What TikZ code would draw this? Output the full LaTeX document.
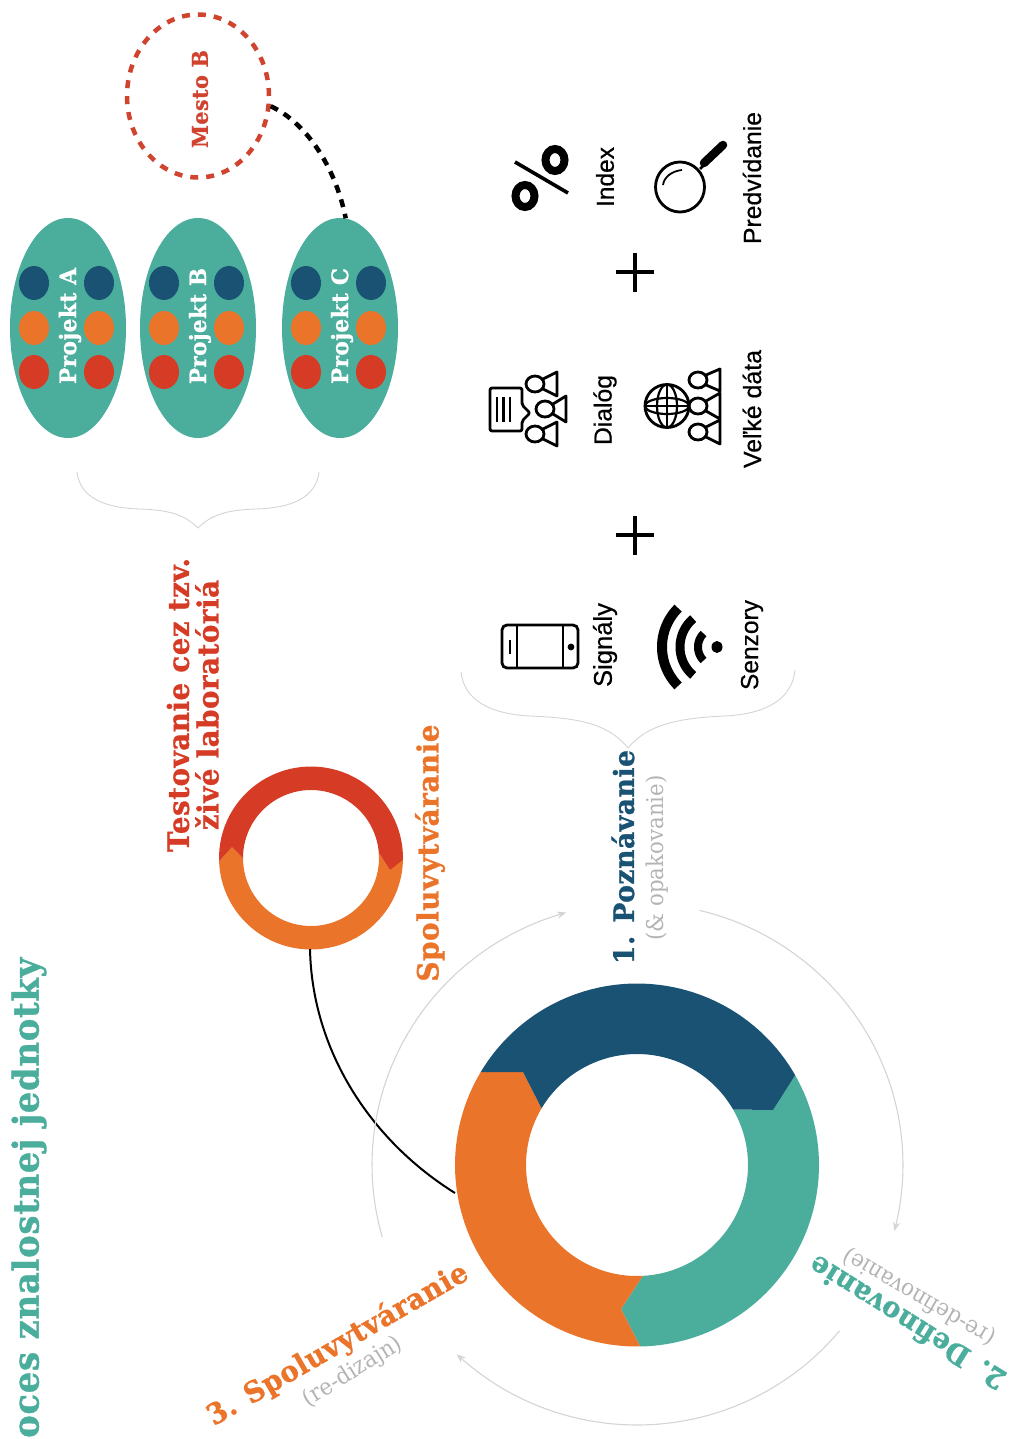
\documentclass[tikz,border=0pt]{standalone}
\usepackage{fontspec}
\usepackage{graphicx}
\usetikzlibrary{shapes.geometric,arrows.meta}
\setmainfont[FakeBold=.5]{Liberation Sans}
\newfontfamily\slab[FakeStretch=.92]{DejaVu Serif}
\newfontfamily\slabb[FakeStretch=.95,FakeBold=1,LetterSpace=2]{DejaVu Serif Bold}
\definecolor{cteal}{HTML}{4BAE9D}
\definecolor{cblue}{HTML}{1A5274}
\definecolor{corange}{HTML}{EB742B}
\definecolor{cred}{HTML}{D63C25}
\definecolor{cdash}{HTML}{D0432F}
\definecolor{cgray}{HTML}{D4D4D4}
\definecolor{clabel}{HTML}{B4B4B4}
\newcommand{\fitb}[2]{\resizebox{#1pt}{!}{\slabb #2}}
\newcommand{\fitl}[2]{\resizebox{#1pt}{!}{\slab #2}}
\newcommand{\fits}[2]{\resizebox{#1pt}{!}{#2}}
\def\cx{637}\def\cy{1165}\def\sx{311}\def\sy{858}
\newcommand{\person}[4]{%
  \draw[icon] (#1,#2) ellipse [x radius=9,y radius=8];
  \draw[icon,line join=round] (#1+8,#2-5) -- (#3,#2-#4) -- (#3,#2+#4) -- (#1+8,#2+5);}
\tikzset{
  icon/.style={line width=2.8pt,black},
  lbl/.style={rotate=90,inner sep=0pt,font=\fontsize{24}{24}\selectfont},
  proj/.style={ellipse,fill=cteal,minimum width=116pt,minimum height=220pt,inner sep=0pt},
  dotb/.style={ellipse,fill=cblue,minimum width=30pt,minimum height=34pt,inner sep=0pt},
  doto/.style={ellipse,fill=corange,minimum width=30pt,minimum height=34pt,inner sep=0pt},
  dotr/.style={ellipse,fill=cred,minimum width=30pt,minimum height=34pt,inner sep=0pt},
  brace/.style={cgray,line width=.9pt},
  cyc/.style={cgray,line width=1.1pt,-{Stealth[length=9pt,width=7pt]}},
  plusbar/.style={line width=4pt,black}
}
\begin{document}
\begin{tikzpicture}[x=1pt,y=-1pt]
\useasboundingbox (0,0) rectangle (1016,1439);
% title
\node[rotate=90,anchor=west,inner sep=0pt,text=cteal] (title) at (29,1438) {\fitb{480}{oces znalostnej jednotky}};
% projects
\node[proj] (pa) at (68,328) {};
\node[proj] (pb) at (198,328) {};
\node[proj] (pc) at (340,328) {};
\node[dotb] (a1) at (34,283) {}; \node[dotb] (a2) at (99,283) {};
\node[doto] (a3) at (34,328) {}; \node[doto] (a4) at (99,328) {};
\node[dotr] (a5) at (34,372) {}; \node[dotr] (a6) at (99,372) {};
\node[dotb] (b1) at (164,283) {}; \node[dotb] (b2) at (229,283) {};
\node[doto] (b3) at (164,328) {}; \node[doto] (b4) at (229,328) {};
\node[dotr] (b5) at (164,372) {}; \node[dotr] (b6) at (229,372) {};
\node[dotb] (c1) at (306,283) {}; \node[dotb] (c2) at (371,283) {};
\node[doto] (c3) at (306,328) {}; \node[doto] (c4) at (371,328) {};
\node[dotr] (c5) at (306,372) {}; \node[dotr] (c6) at (371,372) {};
\node[rotate=90,inner sep=0pt,text=white] (ta) at (70,326) {\fitb{116}{Projekt A}};
\node[rotate=90,inner sep=0pt,text=white] (tb) at (200,326) {\fitb{116}{Projekt B}};
\node[rotate=90,inner sep=0pt,text=white] (tc) at (342,326) {\fitb{116}{Projekt C}};
% Mesto B
\node[ellipse,draw=cdash,line width=4.5pt,dash pattern=on 8pt off 8pt,minimum width=142pt,minimum height=163pt,inner sep=0pt] (mesto) at (198,96) {};
\node[rotate=90,inner sep=0pt,text=cdash] (mt) at (200,99) {\fitb{98}{Mesto B}};
\draw[black,line width=4.5pt,dash pattern=on 8pt off 7pt] (mesto.-8) .. controls (305,122) and (335,165) .. (pc.87);
% upper brace
\coordinate (bt) at (198,528);
\draw[brace] (77,472) .. controls (80,498) and (105,508) .. (140,509) .. controls (170,510) and (185,515) .. (bt) .. controls (211,515) and (226,510) .. (256,509) .. controls (291,508) and (316,498) .. (319,472);
% lower brace
\coordinate (bb) at (628,748);
\draw[brace] (461,672) .. controls (464,700) and (490,714) .. (530,716) .. controls (585,718) and (610,726) .. (bb) .. controls (646,726) and (675,718) .. (725,716) .. controls (765,714) and (792,700) .. (795,670);
% icon texts
\node[lbl] (t1) at (605,645) {\fits{84}{Signály}};
\node[lbl] (t2) at (752,645) {\fits{90}{Senzory}};
\node[lbl] (t3) at (605,410) {\fits{70}{Dialóg}};
\node[lbl] (t4) at (752,409) {\fits{118}{Veľké dáta}};
\node[lbl] (t5) at (605,177) {\fits{60}{Index}};
\node[lbl] (t6) at (752,178) {\fits{132}{Predvídanie}};
% plus signs
\coordinate (p1a) at (616,272); \coordinate (p1b) at (654,272);
\coordinate (p1c) at (635,253); \coordinate (p1d) at (635,292);
\draw[plusbar] (p1a) -- (p1b); \draw[plusbar] (p1c) -- (p1d);
\coordinate (p2a) at (616,535); \coordinate (p2b) at (654,535);
\coordinate (p2c) at (635,516); \coordinate (p2d) at (635,555);
\draw[plusbar] (p2a) -- (p2b); \draw[plusbar] (p2c) -- (p2d);
% phone
\draw[icon,rounded corners=5pt] (502,625) rectangle (578,668);
\draw[icon] (517,625) -- (517,668) (563,625) -- (563,668);
\draw[icon] (510,640) -- (510,654);
\fill (571,647) circle [radius=3.4];
% wifi
\fill (717,647) ellipse [x radius=5.5,y radius=6];
\draw[line width=8pt] plot[domain=135:225,samples=30] ({717+19*cos(\x)},{647+19*sin(\x)});
\draw[line width=9pt] plot[domain=130:230,samples=30] ({717+37*cos(\x)},{647+37*sin(\x)});
\draw[line width=10pt] plot[domain=135:225,samples=30] ({717+55*cos(\x)},{647+55*sin(\x)});
% dialog
\draw[icon,rounded corners=2pt,line join=round] (490,388) -- (522,388) -- (522,405) -- (530,413) -- (522,421) -- (522,431) -- (490,431) -- cycle;
\draw[line width=2.4pt] (497,397) -- (497,422) (503.5,397) -- (503.5,422) (510,397) -- (510,422);
\person{535}{384}{557}{12}
\person{545}{409}{566}{13}
\person{535}{434}{557}{12}
% big data
\draw[icon] (667,406) ellipse [x radius=22,y radius=21.5];
\draw[line width=2.2pt] (667,406) ellipse [x radius=22,y radius=8];
\draw[line width=2.2pt] (667,406) ellipse [x radius=10,y radius=21.5];
\draw[line width=2.2pt] (645,406) -- (689,406) (667,385) -- (667,428);
\person{698}{380}{720}{11}
\person{698}{406}{720}{13}
\person{698}{432}{720}{12}
% percent
\draw[line width=8pt] (525,196) ellipse [x radius=9.5,y radius=11];
\draw[line width=8pt] (555,160) ellipse [x radius=9.5,y radius=11];
\draw[line width=3.6pt] (515,162) -- (568,193);
% magnifier
\draw[line width=2.8pt] (680,187) ellipse [x radius=24.5,y radius=25];
\draw[line width=1.8pt] (663,185) .. controls (664,177) and (672,171) .. (682,170);
\draw[line width=2.8pt] (700,169) -- (706,163);
\draw[line width=8.5pt,line cap=round] (704,163) -- (723,145);
% small ring
\fill[corange] plot[domain=178:-1,samples=50] ({\sx+92*cos(\x)},{\sy+91.5*sin(\x)}) -- (390,870) -- (379,853) -- plot[domain=-3:180,samples=50] ({\sx+68*cos(\x)},{\sy+68*sin(\x)}) -- (232,847) -- cycle;
\fill[cred] plot[domain=178:361,samples=50] ({\sx+92*cos(\x)},{\sy+91.5*sin(\x)}) -- (390,870) -- (379,853) -- plot[domain=357:180,samples=50] ({\sx+68*cos(\x)},{\sy+68*sin(\x)}) -- (232,847) -- cycle;
% big ring
\fill[cteal] plot[domain=-30:89,samples=60] ({\cx+182*cos(\x)},{\cy+181.5*sin(\x)}) -- (621,1309) -- plot[domain=87:-30,samples=60] ({\cx+111*cos(\x)},{\cy+111*sin(\x)}) -- (773,1110) -- cycle;
\fill[corange] plot[domain=89:210.8,samples=60] ({\cx+182*cos(\x)},{\cy+181.5*sin(\x)}) -- (523,1072) -- plot[domain=210.7:87,samples=60] ({\cx+111*cos(\x)},{\cy+111*sin(\x)}) -- (621,1309) -- cycle;
\fill[cblue] plot[domain=210.8:330.3,samples=60] ({\cx+182*cos(\x)},{\cy+181.5*sin(\x)}) -- (773,1110) -- plot[domain=330:210.7,samples=60] ({\cx+111*cos(\x)},{\cy+111*sin(\x)}) -- (523,1072) -- cycle;
% connector between rings
\coordinate (rs) at (310,949); \coordinate (rb) at (455,1193);
\draw[black,line width=2pt] (rs) .. controls (312,1050) and (370,1140) .. (rb);
% cycle arrows
\draw[cyc] plot[domain=164:254.5,samples=50] ({\cx+265*cos(\x)},{\cy+262*sin(\x)});
\draw[cyc] plot[domain=-76.4:14.6,samples=50] ({\cx+266*cos(\x)},{\cy+262*sin(\x)});
\draw[cyc] plot[domain=39.6:133.3,samples=50] ({\cx+263*cos(\x)},{\cy+260*sin(\x)});
% labels
\node[rotate=90,inner sep=0pt,text=cred,align=center] (lt1) at (178,705) {\fitb{294}{Testovanie cez tzv.}};
\node[rotate=90,inner sep=0pt,text=cred] (lt2) at (207,705) {\fitb{250}{živé laboratóriá}};
\node[rotate=90,inner sep=0pt,text=corange] (ls) at (430,853) {\fitb{257}{Spoluvytváranie}};
\node[rotate=90,inner sep=0pt,text=cblue] (l1) at (623,857) {\fitb{214}{1. Poznávanie}};
\node[rotate=90,inner sep=0pt,text=clabel] (l1s) at (657,858) {\fitl{165}{(\& opakovanie)}};
\node[rotate=148,inner sep=0pt,text=cteal] (l2) at (907,1323) {\fitb{226}{2. Definovanie}};
\node[rotate=150,inner sep=0pt,text=clabel] (l2s) at (919,1297) {\fitl{172}{(re-definovanie)}};
\node[rotate=30,inner sep=0pt,text=corange] (l3) at (338,1345) {\fitb{296}{3. Spoluvytváranie}};
\node[rotate=32,inner sep=0pt,text=clabel] (l3s) at (353,1372) {\fitl{112}{(re-dizajn)}};
\end{tikzpicture}
\end{document}
